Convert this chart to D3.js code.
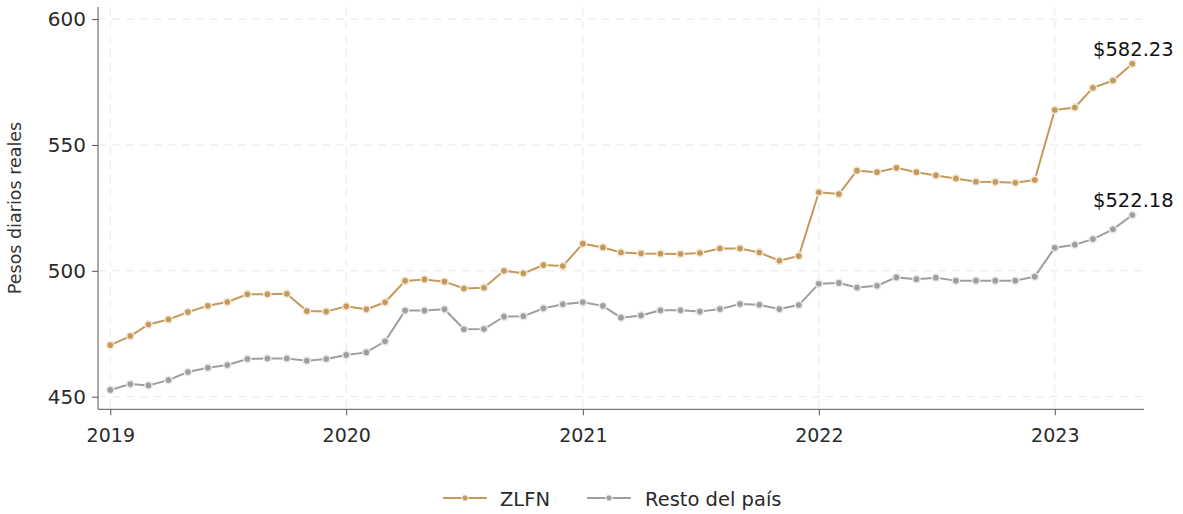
<!DOCTYPE html>
<html><head><meta charset="utf-8">
<script src="https://cdn.jsdelivr.net/npm/d3@7"></script>
<style>body{margin:0;background:#fff;} text{font-family:"DejaVu Sans",sans-serif;}</style>
</head><body>
<svg id="c" width="1183" height="514"></svg>
<script>
const startYear = 2019, startMonth = 0;
const zlfn = [470.5,474.1,478.7,480.7,483.6,486.1,487.6,490.7,490.7,490.9,484.0,483.8,
  485.9,484.7,487.5,496.0,496.6,495.7,493.0,493.3,500.0,499.0,502.3,501.9,
  510.8,509.3,507.3,506.9,506.8,506.7,507.1,508.9,508.9,507.3,504.0,505.9,
  531.2,530.5,539.8,539.2,540.9,539.2,537.9,536.7,535.4,535.3,535.0,536.1,
  563.9,564.9,572.7,575.6,582.23];
const resto = [452.7,455.0,454.5,456.6,459.8,461.5,462.6,465.0,465.2,465.2,464.3,465.0,
  466.6,467.6,472.0,484.2,484.2,484.7,476.8,476.9,481.8,482.0,485.1,486.7,
  487.5,486.1,481.4,482.3,484.3,484.3,483.8,484.8,486.8,486.5,484.8,486.4,
  494.9,495.2,493.4,494.1,497.4,496.7,497.3,496.1,496.1,496.1,496.1,497.7,
  509.2,510.4,512.6,516.5,522.18];
const yTicks = [450,500,550,600];
const xTickYears = [2019,2020,2021,2022,2023];
const seriesNames = ["ZLFN","Resto del país"];
const colors = ["#C49A5C","#9E9E9E"];
const halos = ["#F3E6D3","#E8E8E8"];
const endLabels = ["$582.23","$522.18"];

const FONT = "'DejaVu Sans',sans-serif";
const svg = d3.select("#c");
const L=98, R=1144, T=7, B=409.3;
const dates = zlfn.map((_,i)=>new Date(startYear, startMonth+i, 1));
const x = d3.scaleTime()
  .domain([new Date(2018,11,13), new Date(2023,4,19)])
  .range([L,R]);
const y = d3.scaleLinear().domain([445,604.8]).range([B,T]);

const g = svg.append("g");
g.selectAll(".hg").data(yTicks).join("line")
  .attr("x1",L).attr("x2",R).attr("y1",d=>y(d)).attr("y2",d=>y(d))
  .attr("stroke","#e8e8e8").attr("stroke-width",1).attr("stroke-dasharray","8,6");
g.selectAll(".vg").data(xTickYears).join("line")
  .attr("x1",d=>x(new Date(d,0,1))).attr("x2",d=>x(new Date(d,0,1)))
  .attr("y1",T).attr("y2",B)
  .attr("stroke","#e8e8e8").attr("stroke-width",1).attr("stroke-dasharray","8,6");

const yAxis = d3.axisLeft(y).tickValues(yTicks).tickSize(6).tickPadding(6).tickFormat(d3.format("d"));
const ya = svg.append("g").attr("transform",`translate(${L},0)`).call(yAxis);
ya.select(".domain").attr("stroke","#555").attr("d",`M0,${T}V${B}`);
ya.selectAll(".tick line").attr("stroke","#555");
ya.selectAll("text").attr("font-size",20).attr("fill","#2a2a2a").style("font-family",FONT);

const xAxis = d3.axisBottom(x).tickValues(xTickYears.map(d=>new Date(d,0,1))).tickSize(6).tickPadding(13).tickFormat(d3.timeFormat("%Y"));
const xa = svg.append("g").attr("transform",`translate(0,${B})`).call(xAxis);
xa.select(".domain").attr("stroke","#555").attr("d",`M${L},0H${R}`);
xa.selectAll(".tick line").attr("stroke","#555");
xa.selectAll("text").attr("font-size",19).attr("fill","#2a2a2a").style("font-family",FONT);

svg.append("text").attr("transform","translate(21,208) rotate(-90)")
  .attr("text-anchor","middle").attr("font-size",17.5).attr("fill","#333")
  .text("Pesos diarios reales");

const line = d3.line().x((d,i)=>x(dates[i])).y(d=>y(d));
[zlfn,resto].forEach((s,k)=>{
  svg.append("path").datum(s).attr("d",line).attr("fill","none")
    .attr("stroke",colors[k]).attr("stroke-width",2);
  svg.append("g").selectAll("circle").data(s).join("circle")
    .attr("cx",(d,i)=>x(dates[i])).attr("cy",d=>y(d)).attr("r",3.6)
    .attr("fill",colors[k]).attr("stroke",halos[k]).attr("stroke-width",1.6);
  const last = s.length-1;
  svg.append("text").attr("x",x(dates[last])+1).attr("y",y(s[last])-8)
    .attr("text-anchor","middle").attr("font-size",19.5).attr("fill","#111")
    .text(endLabels[k]);
});

const lg = svg.append("g");
const items = [{x0:443,tx:500},{x0:587,tx:645}];
items.forEach((it,k)=>{
  lg.append("line").attr("x1",it.x0).attr("x2",it.x0+44).attr("y1",498).attr("y2",498)
    .attr("stroke",colors[k]).attr("stroke-width",2);
  lg.append("circle").attr("cx",it.x0+22).attr("cy",498).attr("r",3)
    .attr("fill",colors[k]).attr("stroke",halos[k]).attr("stroke-width",1.2);
  lg.append("text").attr("x",it.tx).attr("y",506).attr("font-size",19.5).attr("fill","#2a2a2a")
    .text(seriesNames[k]);
});
</script>
</body></html>
